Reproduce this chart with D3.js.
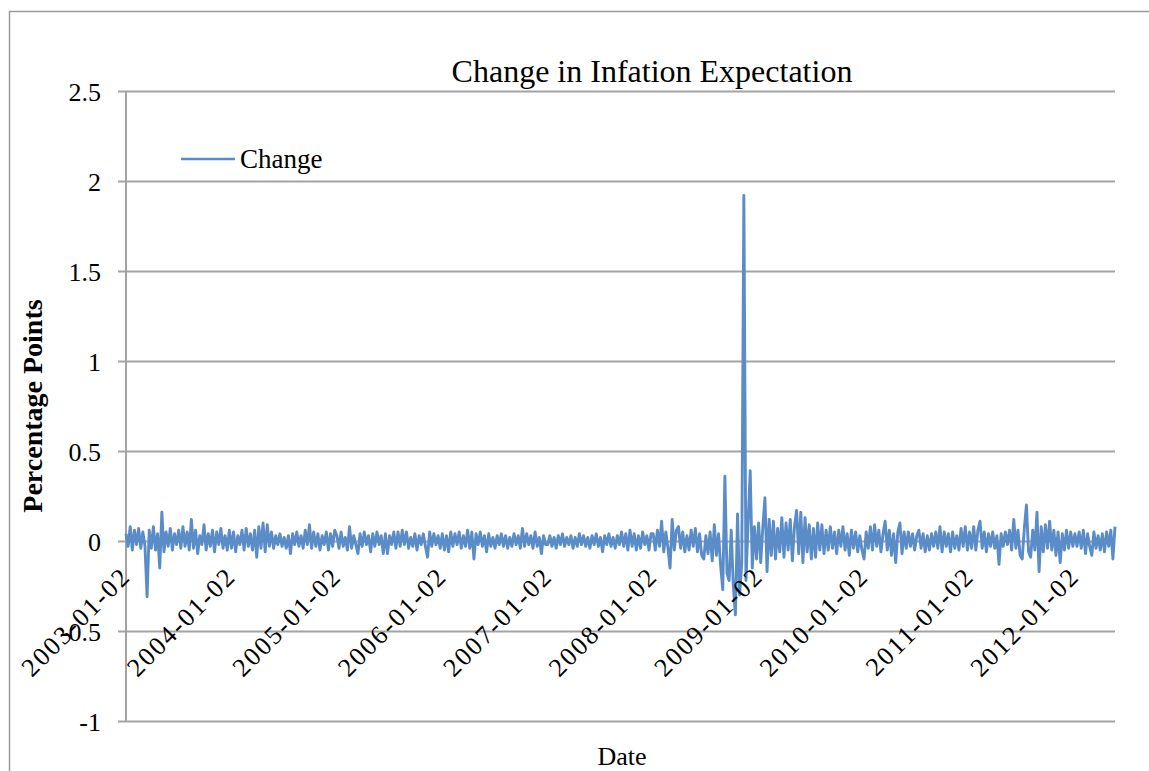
<!DOCTYPE html>
<html>
<head>
<meta charset="utf-8">
<script src="https://cdn.jsdelivr.net/npm/d3@7"></script>
<style>
  html, body { margin: 0; padding: 0; background: #fff; }
  svg { display: block; }
</style>
</head>
<body>
<svg id="chart" width="1149" height="771"></svg>
<script>
// Daily change in inflation expectation (percentage points), one block per year.
const change2003 = [
  0.04, -0.03, 0.08, -0.05, 0.06, -0.02, 0.07, -0.04, 0.05, -0.03,
  -0.31, 0.06, -0.04, 0.08, -0.05, 0.04, -0.15, 0.16, -0.06, 0.05,
  -0.03, 0.07, -0.05, 0.04, -0.02, 0.06, -0.04, 0.08, -0.03, 0.05,
  -0.05, 0.12, -0.04, 0.06, -0.07, 0.03, -0.02, 0.09, -0.05, 0.04,
  -0.03, 0.06, -0.06, 0.05, -0.02, 0.07, -0.04, 0.03, -0.05, 0.06
];
const change2004 = [
  -0.04, 0.05, -0.06, 0.03, -0.02, 0.06, -0.05, 0.07, -0.03, 0.04,
  -0.05, 0.06, -0.09, 0.08, -0.04, 0.10, -0.06, 0.09, -0.03, 0.05,
  -0.04, 0.03, -0.02, 0.04, -0.03, 0.02, -0.04, 0.03, -0.07, 0.04,
  -0.02, 0.05, -0.03, 0.03, -0.04, 0.06, -0.02, 0.09, -0.04, 0.05,
  -0.03, 0.04, -0.05, 0.03, -0.02, 0.05, -0.05, 0.04, -0.03, 0.06
];
const change2005 = [
  0.03, -0.04, 0.05, -0.03, 0.02, -0.05, 0.08, -0.04, 0.03, -0.02,
  -0.07, 0.04, -0.03, 0.05, -0.02, 0.03, -0.06, 0.04, -0.03, 0.05,
  -0.02, 0.03, -0.07, 0.04, -0.07, 0.03, -0.02, 0.05, -0.04, 0.05,
  -0.03, 0.06, -0.02, 0.05, -0.04, 0.02, -0.03, 0.04, -0.05, 0.03,
  -0.02, 0.04, -0.03, -0.09, 0.05, -0.03, 0.04, -0.02, 0.03, -0.04
];
const change2006 = [
  0.04, -0.05, 0.03, -0.06, 0.05, -0.03, 0.04, -0.02, 0.05, -0.04,
  0.03, -0.03, 0.06, -0.04, 0.05, -0.10, 0.04, -0.02, 0.05, -0.03,
  0.03, -0.06, 0.04, -0.03, 0.02, -0.04, 0.03, -0.02, 0.04, -0.03,
  0.03, -0.04, 0.02, -0.03, 0.04, -0.02, 0.03, -0.04, 0.07, -0.03,
  0.04, -0.02, 0.03, -0.04, 0.05, -0.03, 0.02, -0.07, 0.03, -0.02
];
const change2007 = [
  -0.02, 0.03, -0.03, 0.02, -0.04, 0.03, -0.02, 0.04, -0.03, 0.02,
  -0.02, 0.03, -0.04, 0.02, -0.03, 0.04, -0.02, 0.03, -0.03, 0.02,
  -0.04, 0.03, -0.02, 0.04, -0.03, 0.02, -0.06, 0.03, -0.02, 0.04,
  -0.03, 0.02, -0.04, 0.03, -0.02, 0.05, -0.03, 0.04, -0.05, 0.06,
  -0.03, 0.04, -0.05, 0.03, -0.04, 0.05, -0.02, 0.03, -0.05, 0.04
];
const change2008 = [
  0.04, -0.05, 0.06, -0.03, 0.11, -0.06, 0.05, -0.04, -0.15, 0.12,
  -0.05, 0.06, 0.08, -0.04, 0.05, -0.06, 0.03, -0.05, 0.06, -0.03,
  0.07, -0.06, 0.04, -0.08, -0.10, 0.03, -0.07, 0.05, -0.11, 0.09,
  -0.08, 0.04, -0.14, -0.27, 0.36, -0.18, -0.22, 0.06, -0.25, -0.41,
  0.15, -0.30, -0.12, 1.92, -0.22, 0.10, 0.39, -0.15, 0.08, -0.10
];
const change2009 = [
  0.10, -0.12, 0.08, 0.24, -0.17, 0.12, -0.08, 0.11, -0.10, 0.07,
  -0.06, 0.13, -0.09, 0.10, -0.05, 0.12, -0.11, 0.08, 0.17, -0.07,
  0.16, -0.12, 0.13, -0.06, 0.09, -0.10, 0.07, -0.09, 0.10, -0.05,
  0.09, -0.07, 0.06, -0.05, 0.08, -0.04, 0.05, -0.07, 0.06, -0.03,
  0.08, -0.05, 0.04, -0.08, 0.06, -0.04, 0.05, -0.06, 0.03, -0.05
];
const change2010 = [
  -0.10, 0.05, -0.04, 0.08, -0.05, 0.09, -0.03, 0.06, -0.06, 0.04,
  0.11, -0.05, 0.06, -0.08, 0.04, -0.12, 0.05, 0.10, -0.07, 0.05,
  -0.04, 0.05, -0.03, 0.04, -0.05, 0.03, 0.06, -0.04, 0.04, -0.06,
  0.03, -0.05, 0.04, -0.03, 0.05, -0.04, 0.08, -0.06, 0.05, -0.03,
  0.04, -0.06, 0.05, -0.04, 0.03, -0.05, 0.07, -0.03, 0.08, -0.05
];
const change2011 = [
  0.05, -0.04, 0.08, -0.05, 0.06, 0.11, -0.04, 0.05, -0.06, 0.04,
  -0.03, 0.05, -0.04, 0.03, -0.13, 0.04, -0.03, 0.05, -0.02, 0.06,
  -0.05, 0.12, -0.04, 0.06, -0.08, -0.10, 0.07, 0.20, -0.06, -0.09,
  0.06, -0.05, 0.16, -0.17, 0.08, -0.06, 0.09, -0.04, 0.11, -0.05,
  0.06, -0.08, 0.05, -0.12, 0.04, -0.05, 0.06, -0.04, 0.05, -0.03
];
const change2012 = [
  0.04, -0.03, 0.05, -0.04, 0.06, -0.07, 0.04, -0.03, -0.08, 0.05,
  -0.04, 0.03, -0.05, 0.04, -0.06, 0.05, -0.03, 0.06, -0.10, 0.08
];

// Category labels shown on the date axis (first trading day of each year).
const dateLabels = [
  "2003-01-02", "2004-01-02", "2005-01-02", "2006-01-02", "2007-01-02",
  "2008-01-02", "2009-01-02", "2010-01-02", "2011-01-02", "2012-01-02"
];
const yearBlocks = [
  change2003, change2004, change2005, change2006, change2007,
  change2008, change2009, change2010, change2011, change2012
];
const yTicks = [-1, -0.5, 0, 0.5, 1, 1.5, 2, 2.5];

const titleText = "Change in Infation Expectation";
const seriesName = "Change";
const xTitle = "Date";
const yTitle = "Percentage Points";

// Flatten the yearly blocks; remember where each labelled year starts.
const series = [];
const labelIndex = [];
yearBlocks.forEach(block => {
  labelIndex.push(series.length);
  block.forEach(v => series.push(v));
});

const svg = d3.select("#chart");
const plot = { left: 126, right: 1115, top: 91, bottom: 721 };
const gridColor = "#a3a3a3";
const lineColor = "#5a8dc8";
const serif = "'Liberation Serif', 'Times New Roman', serif";

// Outer chart frame
svg.append("rect")
  .attr("x", 9.5).attr("y", 11.5)
  .attr("width", 1300).attr("height", 900)
  .attr("fill", "none")
  .attr("stroke", "#9a9a9a")
  .attr("stroke-width", 1.5);

const x = d3.scaleLinear().domain([0, series.length - 1]).range([plot.left, plot.right]);
const y = d3.scaleLinear().domain([-1, 2.5]).range([plot.bottom, plot.top]);

// Horizontal gridlines with left tick marks; plain hyphen for negatives
const fmt = d3.format("~g");
const yAxis = d3.axisLeft(y)
  .tickValues(yTicks)
  .tickSize(-(plot.right - plot.left))
  .tickFormat(d => fmt(d).replace("\u2212", "-"));
const yG = svg.append("g")
  .attr("transform", `translate(${plot.left},0)`)
  .call(yAxis);
yG.select(".domain").remove();
yG.selectAll(".tick line")
  .attr("x1", -8)
  .attr("stroke", gridColor)
  .attr("stroke-width", 2);
yG.selectAll(".tick text")
  .attr("x", -25)
  .attr("dy", "0.36em")
  .attr("fill", "#000")
  .style("font-family", serif)
  .style("font-size", "26px");

// Vertical value axis line
svg.append("line")
  .attr("x1", plot.left).attr("x2", plot.left)
  .attr("y1", plot.top).attr("y2", plot.bottom)
  .attr("stroke", gridColor)
  .attr("stroke-width", 2);

// Data line
const line = d3.line()
  .x((d, i) => x(i))
  .y(d => y(d));
svg.append("path")
  .datum(series)
  .attr("d", line)
  .attr("fill", "none")
  .attr("stroke", lineColor)
  .attr("stroke-width", 2.9)
  .attr("stroke-linejoin", "round");

// Date labels, rotated, hanging below the zero line
const y0 = y(0);
svg.append("g")
  .selectAll("text")
  .data(dateLabels)
  .join("text")
  .attr("transform", (d, i) => `translate(${x(labelIndex[i]) + 6},${y0 + 37}) rotate(-45)`)
  .attr("text-anchor", "end")
  .style("font-family", serif)
  .style("font-size", "26px")
  .style("letter-spacing", "2px")
  .attr("fill", "#000")
  .text(d => d);

// Title
svg.append("text")
  .attr("x", 652).attr("y", 82)
  .attr("text-anchor", "middle")
  .style("font-family", serif)
  .style("font-size", "32px")
  .text(titleText);

// Axis titles
svg.append("text")
  .attr("x", 622).attr("y", 765)
  .attr("text-anchor", "middle")
  .style("font-family", serif)
  .style("font-size", "26px")
  .text(xTitle);

svg.append("text")
  .attr("transform", "translate(42,406) rotate(-90)")
  .attr("text-anchor", "middle")
  .style("font-family", serif)
  .style("font-size", "28px")
  .style("font-weight", "bold")
  .text(yTitle);

// Legend
const legend = svg.append("g").attr("transform", "translate(181,159)");
legend.append("line")
  .attr("x1", 0).attr("x2", 54)
  .attr("stroke", lineColor)
  .attr("stroke-width", 2.4);
legend.append("text")
  .attr("x", 59).attr("y", 9)
  .style("font-family", serif)
  .style("font-size", "27px")
  .text(seriesName);
</script>
</body>
</html>
